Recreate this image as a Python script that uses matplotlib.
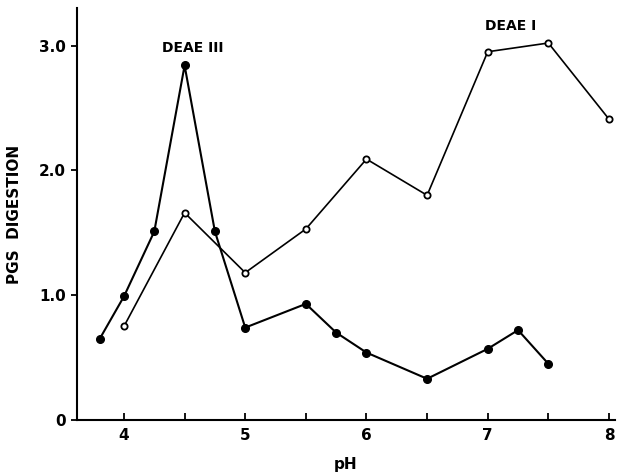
import matplotlib
matplotlib.use("Agg")
import matplotlib.pyplot as plt

# DEAE III (filled circles)
ph_filled = [3.8, 4.0, 4.25, 4.5, 4.75, 5.0, 5.5, 5.75, 6.0, 6.5, 7.0, 7.25, 7.5]
val_filled = [0.65, 0.99, 1.51, 2.84, 1.51, 0.74, 0.93, 0.70, 0.54, 0.33, 0.57, 0.72, 0.45]

# DEAE I (open circles)
ph_open = [4.0, 4.5, 5.0, 5.5, 6.0, 6.5, 7.0, 7.5, 8.0]
val_open = [0.75, 1.66, 1.18, 1.53, 2.09, 1.80, 2.95, 3.02, 2.41]

xticks = [4, 5, 6, 7, 8]
xminor = [4.5, 5.5, 6.5, 7.5]
yticks = [0, 1.0, 2.0, 3.0]
ylabels = ["0", "1.0", "2.0", "3.0"]

plt.rcParams['font.family'] = ['DejaVu Sans']
fig = plt.figure(figsize=(6.26, 4.74), dpi=100)
ax = fig.add_axes([0.1225, 0.114, 0.86, 0.869])

ax.plot(ph_filled, val_filled, color='black', lw=1.5, marker='o', ms=5.5,
        mfc='black', mec='black', zorder=3)
ax.plot(ph_open, val_open, color='black', lw=1.2, marker='o', ms=4.5,
        mfc='white', mec='black', mew=1.3, zorder=3)

ax.set_xlim(3.61, 8.05)
ax.set_ylim(0, 3.3)
ax.spines['top'].set_visible(False)
ax.spines['right'].set_visible(False)
ax.spines['left'].set_linewidth(1.5)
ax.spines['bottom'].set_linewidth(1.5)

ax.set_xticks(xticks)
ax.set_xticks(xminor, minor=True)
ax.tick_params(axis='x', which='both', direction='in', length=5, width=1.3,
               labelsize=11, pad=6)
ax.set_yticks(yticks)
ax.set_yticklabels(ylabels)
ax.tick_params(axis='y', direction='out', length=4, width=1.3, labelsize=11, pad=4)
for lbl in ax.get_xticklabels() + ax.get_yticklabels():
    lbl.set_fontweight('bold')

ax.set_xlabel('pH', fontsize=11, fontweight='bold', labelpad=10)
ax.set_ylabel('PGS  DIGESTION', fontsize=11, fontweight='bold', labelpad=12)

ax.text(4.57, 2.98, 'DEAE III', fontsize=10, fontweight='bold', ha='center', va='center')
ax.text(7.19, 3.16, 'DEAE I', fontsize=10, fontweight='bold', ha='center', va='center')

fig.savefig('out.png', dpi=100)
